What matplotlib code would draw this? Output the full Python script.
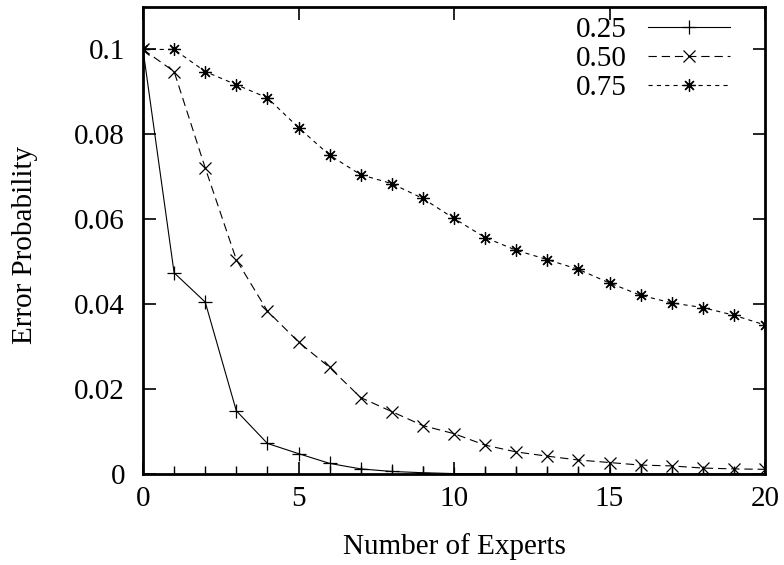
import matplotlib
matplotlib.use("Agg")
import matplotlib.pyplot as plt
from matplotlib.ticker import MultipleLocator, FuncFormatter

plt.rcParams['font.family'] = ['Liberation Serif', 'DejaVu Serif']
plt.rcParams['lines.scale_dashes'] = False

# number of experts on the x axis
experts = list(range(21))

# error probability for each setting
err_025 = [0.1, 0.0474, 0.0405, 0.0149, 0.0072, 0.0048, 0.0025, 0.0012,
           0.0006, 0.0003, 0.0001, 0.00005, 0.00003, 0.00002, 0.00001,
           0.0, 0.0, 0.0, 0.0, 0.0, 0.0]
err_050 = [0.1, 0.0948, 0.0721, 0.0505, 0.0384, 0.0311, 0.0251, 0.0180,
           0.0147, 0.0114, 0.0095, 0.0068, 0.0052, 0.0042, 0.0033, 0.0027,
           0.0021, 0.0019, 0.0014, 0.0012, 0.0011]
err_075 = [0.1, 0.1, 0.0948, 0.0917, 0.0886, 0.0816, 0.0751, 0.0705, 0.0684,
           0.0649, 0.0602, 0.0557, 0.0527, 0.0505, 0.0482, 0.0450, 0.0421,
           0.0403, 0.0392, 0.0374, 0.0351]
labels = ["0.25", "0.50", "0.75"]

fig = plt.figure(figsize=(7.84, 5.65), dpi=100)
ax = fig.add_axes([143/784, 91/565, 622/784, 467/565])

ax.plot(experts, err_025, color='black', lw=0.8, marker='+', ms=10, mew=0.9,
        label=labels[0])
ax.plot(experts, err_050, color='black', lw=0.8, marker='x', ms=8.5, mew=0.9,
        dashes=(6, 3.5), label=labels[1])
ax.plot(experts, err_075, color='black', lw=0.8, marker=(8, 2, 0), ms=9, mew=0.9,
        dashes=(3, 3), label=labels[2])

ax.set_xlim(0, 20)
ax.set_ylim(0, 0.11)
ax.xaxis.set_major_locator(MultipleLocator(5))
ax.xaxis.set_minor_locator(MultipleLocator(1))
ax.yaxis.set_major_locator(MultipleLocator(0.02))
ax.yaxis.set_major_formatter(FuncFormatter(lambda v, p: '%g' % round(v, 4)))

ax.tick_params(which='major', direction='in', length=9, width=1.2,
               labelsize=21, top=True, right=True)
ax.tick_params(which='minor', direction='in', length=6, width=1,
               top=False, right=False)
ax.tick_params(axis='x', which='major', pad=9)
ax.tick_params(axis='y', which='major', pad=13)
for s in ax.spines.values():
    s.set_linewidth(2)

ax.set_xlabel("Number of Experts", fontsize=21, va='center')
ax.xaxis.set_label_coords(0.5, -(547 - 474) / 467)
ax.set_ylabel("Error Probability", fontsize=21, va='center')
ax.yaxis.set_label_coords((25 - 143) / 622, 0.49)

ax.legend(loc='upper right', bbox_to_anchor=(730/784, 1 - 17/565),
          bbox_transform=fig.transFigure, frameon=False, fontsize=21,
          markerfirst=False, numpoints=1, handlelength=2.8,
          handletextpad=0.75, labelspacing=0.08, borderpad=0, borderaxespad=0)

fig.savefig("out.png", dpi=100)
